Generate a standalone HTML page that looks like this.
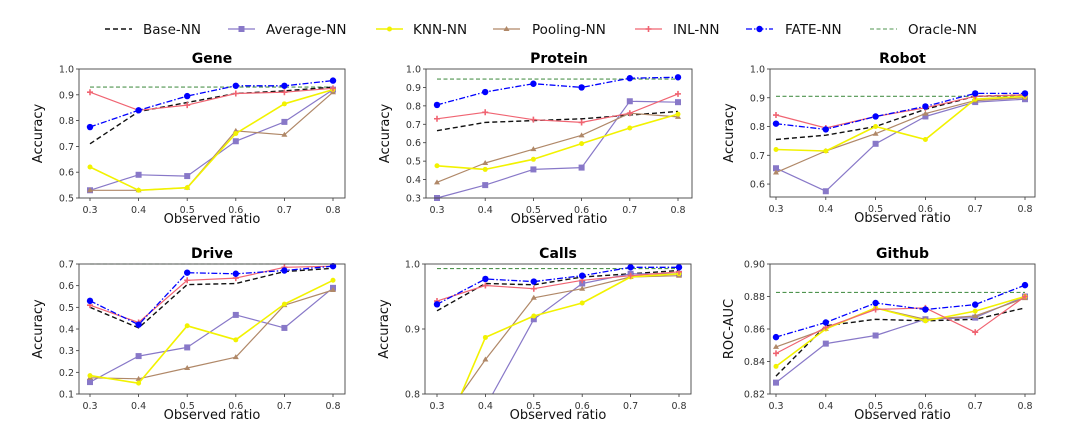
<!DOCTYPE html>
<html><head><meta charset="utf-8"><style>
html,body{margin:0;padding:0;background:#fff;width:1080px;height:429px;overflow:hidden;}
svg{display:block;font-family:"DejaVu Sans","Liberation Sans",sans-serif;overflow:hidden;}
</style></head><body>
<svg id="fig" width="1080" height="429" viewBox="0 0 1080 429"></svg>
<script>
const xCats=[0.3,0.4,0.5,0.6,0.7,0.8];
const seriesNames=["Base-NN","Average-NN","KNN-NN","Pooling-NN","INL-NN","FATE-NN","Oracle-NN"];
const geneBase=[.71,.835,.87,.905,.915,.93];
const geneAvg=[.53,.59,.585,.72,.795,.92];
const geneKnn=[.62,.53,.54,.75,.865,.92];
const genePool=[.53,.53,.54,.76,.745,.91];
const geneInl=[.91,.84,.86,.905,.91,.925];
const geneFate=[.775,.84,.895,.935,.935,.955];
const geneOracle=[.93,.93,.93,.93,.93,.93];
const protBase=[.665,.71,.72,.73,.75,.77];
const protAvg=[.30,.37,.455,.465,.825,.82];
const protKnn=[.475,.455,.51,.595,.68,.755];
const protPool=[.385,.49,.565,.64,.76,.74];
const protInl=[.73,.765,.725,.71,.76,.865];
const protFate=[.805,.875,.92,.90,.95,.955];
const protOracle=[.945,.945,.945,.945,.945,.945];
const robBase=[.755,.77,.80,.86,.905,.91];
const robAvg=[.655,.575,.74,.835,.885,.895];
const robKnn=[.72,.715,.80,.755,.895,.905];
const robPool=[.64,.715,.775,.845,.89,.90];
const robInl=[.84,.795,.835,.865,.905,.91];
const robFate=[.81,.79,.835,.87,.915,.915];
const robOracle=[.905,.905,.905,.905,.905,.905];
const drvBase=[.50,.405,.605,.61,.665,.68];
const drvAvg=[.155,.275,.315,.465,.405,.59];
const drvKnn=[.185,.15,.415,.35,.515,.625];
const drvPool=[.175,.17,.22,.27,.51,.58];
const drvInl=[.51,.43,.625,.635,.685,.69];
const drvFate=[.53,.42,.66,.655,.67,.69];
const drvOracle=[.70,.70,.70,.70,.70,.70];
const callBase=[.928,.97,.968,.98,.985,.99];
const callAvg=[.70,.78,.915,.97,.985,.985];
const callKnn=[.713,.887,.92,.94,.98,.985];
const callPool=[.747,.853,.948,.962,.98,.982];
const callInl=[.943,.967,.962,.975,.982,.988];
const callFate=[.938,.977,.973,.982,.995,.995];
const callOracle=[.993,.993,.993,.993,.993,.993];
const ghBase=[.831,.862,.866,.865,.866,.873];
const ghAvg=[.827,.851,.856,.866,.867,.88];
const ghKnn=[.837,.86,.873,.865,.871,.88];
const ghPool=[.849,.86,.873,.866,.868,.879];
const ghInl=[.845,.861,.872,.873,.858,.88];
const ghFate=[.855,.864,.876,.872,.875,.887];
const ghOracle=[.8825,.8825,.8825,.8825,.8825,.8825];
const geneTicks=["0.5","0.6","0.7","0.8","0.9","1.0"];
const protTicks=["0.3","0.4","0.5","0.6","0.7","0.8","0.9","1.0"];
const robTicks=["0.6","0.7","0.8","0.9","1.0"];
const drvTicks=["0.1","0.2","0.3","0.4","0.5","0.6","0.7"];
const callTicks=["0.8","0.9","1.0"];
const ghTicks=["0.82","0.84","0.86","0.88","0.90"];
const xTickLabels=["0.3","0.4","0.5","0.6","0.7","0.8"];

const NS="http://www.w3.org/2000/svg";
const svg=document.getElementById('fig');
function mk(tag,attrs,parent){const e=document.createElementNS(NS,tag);for(const k in attrs)e.setAttribute(k,attrs[k]);(parent||svg).appendChild(e);return e;}
const styles=[
 {c:"#111",dash:"5,3",w:1.4,m:null},
 {c:"#8878c8",dash:null,w:1.2,m:"sq"},
 {c:"#f2f200",dash:null,w:1.6,m:"star"},
 {c:"#b08868",dash:null,w:1.2,m:"tri"},
 {c:"#f06472",dash:null,w:1.2,m:"plus"},
 {c:"#0000ff",dash:"6,2,1.5,2",w:1.3,m:"circ"},
 {c:"#4f944f",dash:"4,2.5",w:1.1,m:null}];
function marker(g,m,x,y,c){
 if(m==="sq")mk('rect',{x:x-3,y:y-3,width:6,height:6,fill:c},g);
 else if(m==="circ")mk('circle',{cx:x,cy:y,r:3.2,fill:c},g);
 else if(m==="tri")mk('path',{d:`M${x-3},${y+2}L${x+3},${y+2}L${x},${y-3}Z`,fill:c},g);
 else if(m==="star")mk('circle',{cx:x,cy:y,r:2.5,fill:c},g);
 else if(m==="plus")mk('path',{d:`M${x-3},${y}L${x+3},${y}M${x},${y-3}L${x},${y+3}`,stroke:c,'stroke-width':1.6},g);
}
const panels=[
 {name:"gene",title:"Gene",L:79,R:345,T:69,B:198,ymin:.5,ymax:1.0,x0:90,x1:333,ticks:geneTicks,ylab:"Accuracy",data:[geneBase,geneAvg,geneKnn,genePool,geneInl,geneFate,geneOracle]},
 {name:"protein",title:"Protein",L:426,R:692,T:69,B:198,ymin:.3,ymax:1.0,x0:437,x1:678,ticks:protTicks,ylab:"Accuracy",data:[protBase,protAvg,protKnn,protPool,protInl,protFate,protOracle]},
 {name:"robot",title:"Robot",L:770,R:1035,T:69,B:197,ymin:.555,ymax:1.0,x0:776,x1:1025,ticks:robTicks,ylab:"Accuracy",data:[robBase,robAvg,robKnn,robPool,robInl,robFate,robOracle]},
 {name:"drive",title:"Drive",L:79,R:345,T:264,B:394,ymin:.1,ymax:.7,x0:90,x1:333,ticks:drvTicks,ylab:"Accuracy",data:[drvBase,drvAvg,drvKnn,drvPool,drvInl,drvFate,drvOracle]},
 {name:"calls",title:"Calls",L:425,R:691,T:264,B:394,ymin:.8,ymax:1.0,x0:437,x1:679,ticks:callTicks,ylab:"Accuracy",data:[callBase,callAvg,callKnn,callPool,callInl,callFate,callOracle]},
 {name:"github",title:"Github",L:770,R:1035,T:264,B:394,ymin:.82,ymax:.90,x0:776,x1:1025,ticks:ghTicks,ylab:"ROC-AUC",data:[ghBase,ghAvg,ghKnn,ghPool,ghInl,ghFate,ghOracle]}];
function clipPath(d,lo,hi){
 // returns list of [x,v] points clipped to [lo,hi], as subpaths
 const out=[];let cur=[];
 for(let i=0;i<d.length-1;i++){
  let xa=xCats[i],va=d[i],xb=xCats[i+1],vb=d[i+1];
  const inter=(lim)=>xa+(lim-va)/(vb-va)*(xb-xa);
  if((va<lo&&vb<lo)||(va>hi&&vb>hi)){if(cur.length){out.push(cur);cur=[];}continue;}
  let sa=[xa,va],sb=[xb,vb];
  if(va<lo)sa=[inter(lo),lo];else if(va>hi)sa=[inter(hi),hi];
  if(vb<lo)sb=[inter(lo),lo];else if(vb>hi)sb=[inter(hi),hi];
  if(!cur.length||va<lo||va>hi){if(cur.length)out.push(cur);cur=[sa];}
  cur.push(sb);
  if(vb<lo||vb>hi){out.push(cur);cur=[];}
 }
 if(cur.length)out.push(cur);
 return out;
}
panels.forEach((p,pi)=>{
 const g=mk('g',{});
 
 
 const xs=v=>p.x0+(v-0.3)/0.5*(p.x1-p.x0);
 const ys=v=>p.B-(v-p.ymin)/(p.ymax-p.ymin)*(p.B-p.T);
 const title=mk('text',{x:(p.L+p.R)/2,y:p.T-6,'text-anchor':'middle','font-size':14,'font-weight':'bold',fill:'#000'},g);
 title.textContent=p.title;
 
 
 p.ticks.forEach(t=>{const v=parseFloat(t);const y=ys(v);
  mk('line',{x1:p.L-3,x2:p.L,y1:y,y2:y,stroke:'#333','stroke-width':0.8},g);
  const tx=mk('text',{x:p.L-5,y:y+3.5,'text-anchor':'end','font-size':9.5,fill:'#333'},g);tx.textContent=t;
  
  });
 xCats.forEach((c,i)=>{const x=xs(c);
  mk('line',{x1:x,x2:x,y1:p.B,y2:p.B+3,stroke:'#333','stroke-width':0.8},g);
  const tx=mk('text',{x:x,y:p.B+15,'text-anchor':'middle','font-size':9.5,fill:'#333'},g);tx.textContent=xTickLabels[i];
  
  });
 const xl=mk('text',{x:(p.L+p.R)/2,y:p.B+25,'text-anchor':'middle','font-size':13,fill:'#111'},g);xl.textContent="Observed ratio";
 
 
 const yx=p.L-37,yy=(p.T+p.B)/2;
 const yl=mk('text',{x:yx,y:yy,'text-anchor':'middle','font-size':13,fill:'#111',transform:`rotate(-90 ${yx} ${yy})`},g);yl.textContent=p.ylab;
 
 
 const sg=mk('g',{},g);
 [6,0,1,3,2,4,5].forEach(si=>{
  const st=styles[si],d=p.data[si];
  clipPath(d,p.ymin,p.ymax+0.0001).forEach(sub=>{
   const pts=sub.map(q=>`${xs(q[0]).toFixed(1)},${ys(q[1]).toFixed(1)}`).join(' ');
   const a={points:pts,fill:'none',stroke:st.c,'stroke-width':st.w,'stroke-linejoin':'round'};
   if(st.dash)a['stroke-dasharray']=st.dash;
   const pl=mk('polyline',a,sg);
   
   
  });
  if(st.m)d.forEach((v,i)=>{if(v>=p.ymin&&v<=p.ymax+0.001)marker(sg,st.m,xs(xCats[i]),ys(v),st.c);});
 });
 const fr=mk('rect',{x:p.L,y:p.T,width:p.R-p.L,height:p.B-p.T,fill:'none',stroke:'#444','stroke-width':0.9},g);
 
 
});
const legX=[105,228,376,493,635,746,870];
const legTX=[143,266,413,532,673,785,908];
const lg=mk('g',{});


seriesNames.forEach((n,i)=>{
 const st=styles[i];const y=29;
 const eg=mk('g',{},lg);
 
 
 const a={x1:legX[i],x2:legX[i]+27,y1:y,y2:y,stroke:st.c,'stroke-width':st.w};
 if(st.dash)a['stroke-dasharray']=st.dash;
 mk('line',a,eg);
 if(st.m)marker(eg,st.m,legX[i]+13.5,y,st.c);
 const t=mk('text',{x:legTX[i],y:y+5,'font-size':13.5,fill:'#111'},eg);t.textContent=n;
});
</script>
</body></html>
